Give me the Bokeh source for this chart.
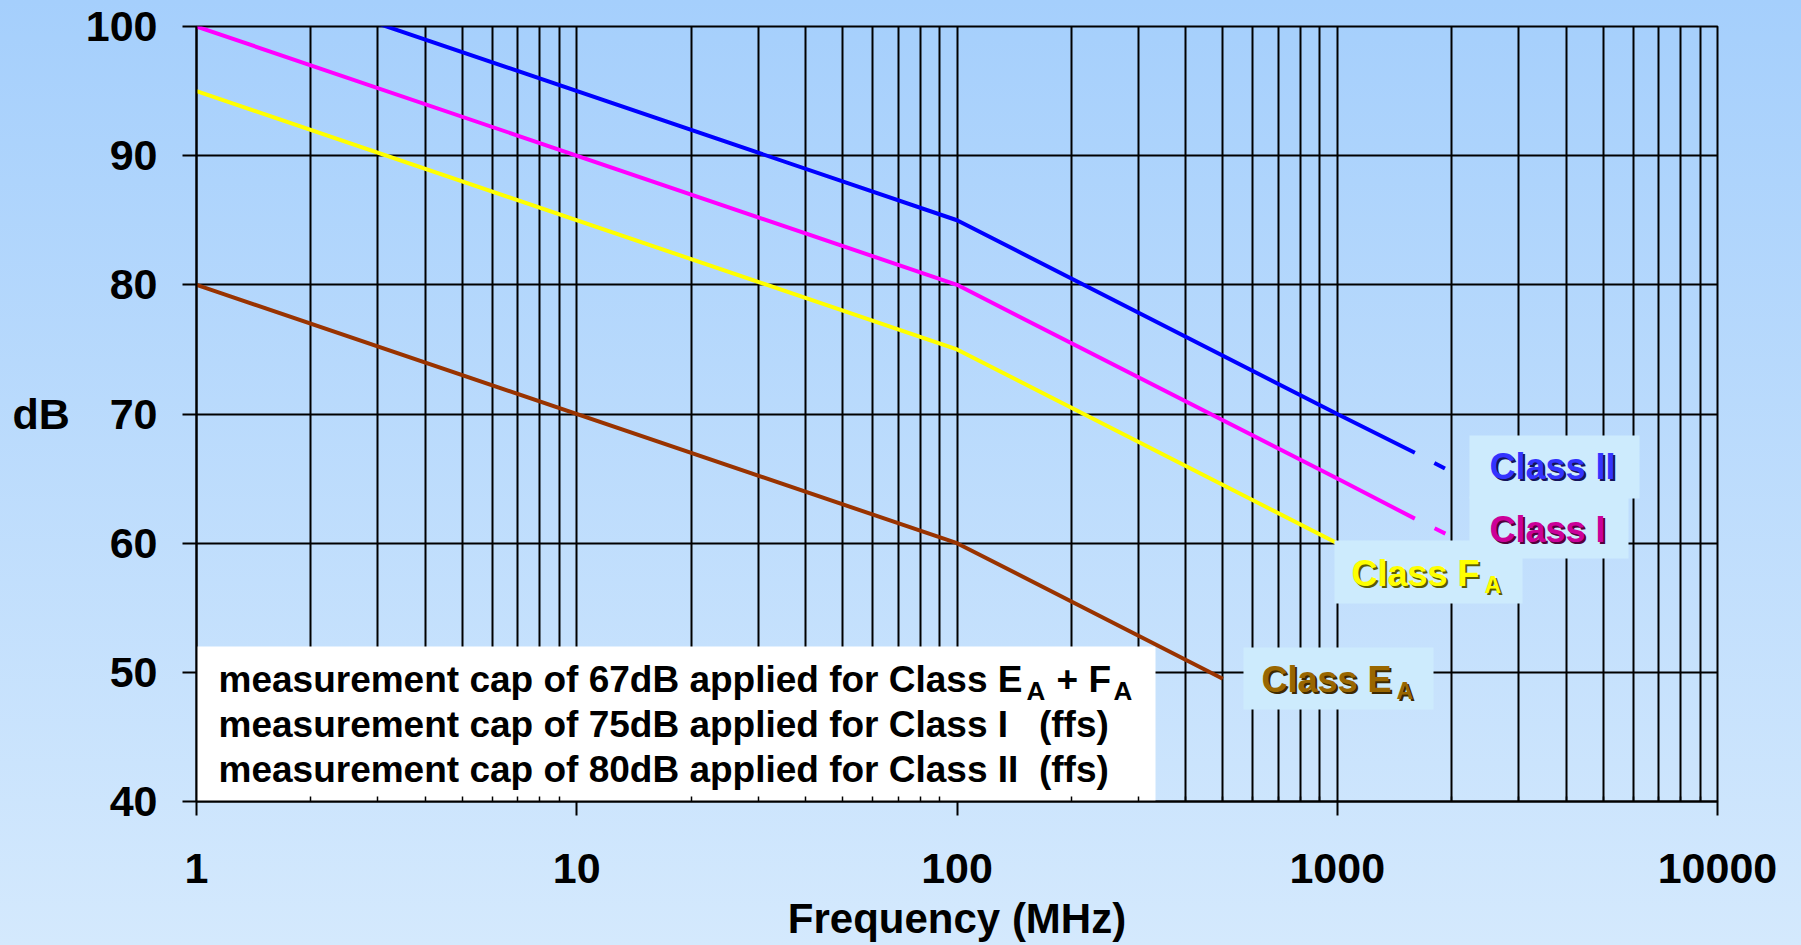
from bokeh.plotting import figure
from bokeh.models import (Range1d, FixedTicker, PrintfTickFormatter, Label)
from bokeh.embed import file_html
from bokeh.resources import INLINE

# ---------------- data ----------------
x_major = [1, 10, 100, 1000, 10000]
x_minor = [m * d for d in [1, 10, 100, 1000] for m in range(2, 10)]
y_ticks = [40, 50, 60, 70, 80, 90, 100]

class2_f = [1, 100, 1000, 1600]
class2_db = [105, 85, 70, 67]
class2_ext_f = [1600, 2000]
class2_ext_db = [67, 65.5]

class1_f = [1, 100, 1000, 1600]
class1_db = [100, 80, 65, 61.9]
class1_ext_f = [1600, 2000]
class1_ext_db = [61.9, 60.5]

classFA_f = [1, 100, 1000]
classFA_db = [95, 75, 60]

classEA_f = [1, 100, 500]
classEA_db = [80, 60, 49.5]

NB = "\u00a0"
notes = [
    "measurement cap of 67dB applied for Class E",
    "measurement cap of 75dB applied for Class I" + NB * 3 + "(ffs)",
    "measurement cap of 80dB applied for Class II" + NB * 2 + "(ffs)",
]

# ---------------- layout helpers (reference pixel -> data) ----------------
W, H = 1801, 945
FL, FR, FT, FB = 196, 1717, 26, 801


def dx(px):
    return 10 ** (4.0 * (px - FL) / (FR - FL))


def dy(py):
    return 40 + 60.0 * (FB - py) / (FB - FT)


FONT = "Liberation Sans"

p = figure(width=W, height=H, x_axis_type="log",
           x_range=Range1d(1, 10000), y_range=Range1d(40, 100),
           output_backend="svg", toolbar_location=None, title=None,
           min_border_left=FL, min_border_right=W - FR,
           min_border_top=FT, min_border_bottom=H - FB)
p.background_fill_color = None
p.border_fill_color = None
p.outline_line_color = "black"
p.outline_line_width = 2

xt = FixedTicker(ticks=x_major, minor_ticks=x_minor)
yt = FixedTicker(ticks=y_ticks, minor_ticks=[])
p.xaxis.ticker = xt
p.yaxis.ticker = yt
p.xgrid.ticker = FixedTicker(ticks=x_major + x_minor)
p.ygrid.ticker = yt
for g in (p.xgrid, p.ygrid):
    g.grid_line_color = "black"
    g.grid_line_width = 2
    g.grid_line_alpha = 1.0

for ax in (p.xaxis, p.yaxis):
    ax.formatter = PrintfTickFormatter(format="%d")
    ax.axis_line_color = "black"
    ax.axis_line_width = 2
    ax.major_tick_line_color = "black"
    ax.major_tick_line_width = 2
    ax.major_tick_out = 14
    ax.major_tick_in = 0
    ax.major_label_text_font = FONT
    ax.major_label_text_font_style = "bold"
    ax.major_label_text_font_size = "43px"
    ax.major_label_text_color = "black"
    ax.axis_label_text_font = FONT
    ax.axis_label_text_font_style = "bold"
    ax.axis_label_text_color = "black"

p.xaxis.minor_tick_line_color = "black"
p.xaxis.minor_tick_line_width = 1.5
p.xaxis.minor_tick_in = 5
p.xaxis.minor_tick_out = 0
p.xaxis.major_label_standoff = 38
p.xaxis.axis_label = "Frequency (MHz)"
p.xaxis.axis_label_text_font_size = "42px"
p.xaxis.axis_label_standoff = 9

p.yaxis.minor_tick_line_color = None
p.yaxis.major_label_standoff = 25
p.yaxis.axis_label = "dB"
p.yaxis.axis_label_text_font_size = "43px"
p.yaxis.axis_label_orientation = "horizontal"
p.yaxis.axis_label_standoff = 13

# white note box (lower left)
p.quad(left=[1], right=[dx(1155)], bottom=[40], top=[dy(646)],
       fill_color="white", line_color=None)

# curves
LW = 4
p.line(classEA_f, classEA_db, line_color="#993300", line_width=LW)
p.line(classFA_f, classFA_db, line_color="#FFFF00", line_width=LW)
p.line(class1_f, class1_db, line_color="#FF00FF", line_width=LW)
p.line(class1_ext_f, class1_ext_db, line_color="#FF00FF", line_width=LW,
       line_dash="0 22 12 60")
p.line(class2_f, class2_db, line_color="#0000FF", line_width=LW)
p.line(class2_ext_f, class2_ext_db, line_color="#0000FF", line_width=LW,
       line_dash="0 22 12 60")

# label boxes
BOX = "#CDEBFD"
boxes = [
    (1469, 1639, 435, 498),
    (1469, 1628, 496, 558),
    (1334, 1522, 540, 603),
    (1243, 1433, 647, 709),
]
p.quad(left=[dx(b[0]) for b in boxes], right=[dx(b[1]) for b in boxes],
       top=[dy(b[2]) for b in boxes], bottom=[dy(b[3]) for b in boxes],
       fill_color=BOX, line_color=None)

SHIFT = 13  # label baseline correction


def lab(px, py, text, size, color, align="left", shadow=None):
    y = dy(py - SHIFT)
    if shadow is not None:
        p.add_layout(Label(x=dx(px), y=y, x_offset=2, y_offset=-2,
                           text=text, text_font=FONT, text_font_style="bold",
                           text_font_size=size, text_color=shadow,
                           text_align=align, text_baseline="alphabetic"))
    p.add_layout(Label(x=dx(px), y=y, text=text, text_font=FONT,
                       text_font_style="bold", text_font_size=size,
                       text_color=color, text_align=align,
                       text_baseline="alphabetic"))


# class labels
lab(1489, 479, "Class II", "36px", "#3333FF", shadow="#14145a")
lab(1489, 542, "Class I", "36px", "#CC0099", shadow="#52003d")
lab(1351, 586, "Class F", "36px", "#FFFF00", shadow="#5c5c00")
lab(1484, 597, "A", "23px", "#FFFF00", shadow="#5c5c00")
lab(1261, 692, "Class E", "36px", "#996600", shadow="#3d2900")
lab(1396, 703, "A", "23px", "#996600", shadow="#3d2900")

# notes
for i, t in enumerate(notes):
    lab(218, 692 + 45 * i, t, "37px", "black")
lab(1026, 703, "A", "26px", "black")
lab(1056, 692, "+ F", "37px", "black")
lab(1113, 703, "A", "26px", "black")

html = file_html(p, INLINE, title="Class limits")
style = ("<style>html{min-height:100%;background:linear-gradient(to bottom,"
         "#A5CFFC 0%,#D4E9FD 100%) no-repeat fixed;}body{background:transparent;}</style>")
html = html.replace("</head>", style + "</head>", 1)
open("out.html", "w").write(html)
